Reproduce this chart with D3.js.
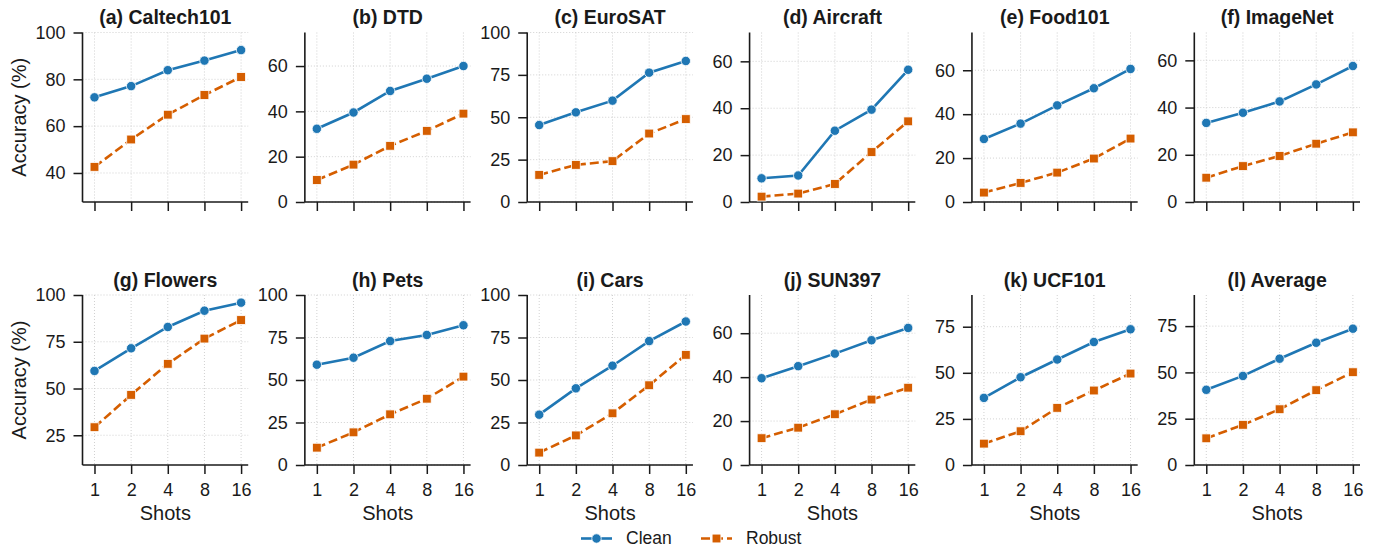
<!DOCTYPE html>
<html>
<head>
<meta charset="utf-8">
<script src="https://cdn.jsdelivr.net/npm/d3@7"></script>
<style>
  html, body { margin: 0; padding: 0; background: #fff; }
  svg { display: block; font-family: "Liberation Sans", Arial, Helvetica, sans-serif; }
</style>
</head>
<body>
<svg id="chart" width="1373" height="548"></svg>
<script>
// Few-shot accuracy (%) per dataset, clean vs. robust evaluation
const shots = ["1", "2", "4", "8", "16"];
const datasets = ["(a) Caltech101", "(b) DTD", "(c) EuroSAT", "(d) Aircraft", "(e) Food101", "(f) ImageNet",
                  "(g) Flowers", "(h) Pets", "(i) Cars", "(j) SUN397", "(k) UCF101", "(l) Average"];

const clean = [
  [72.3, 77.1, 83.9, 88.0, 92.5],
  [32.3, 39.5, 49.0, 54.4, 60.0],
  [45.4, 52.9, 59.8, 76.3, 83.2],
  [10.1, 11.3, 30.4, 39.4, 56.4],
  [28.7, 35.7, 44.0, 51.8, 60.6],
  [33.5, 37.8, 42.6, 49.8, 57.6],
  [59.4, 71.5, 82.9, 91.6, 95.9],
  [59.0, 63.1, 72.9, 76.5, 82.2],
  [29.6, 45.1, 58.4, 72.9, 84.4],
  [39.5, 45.0, 50.7, 56.8, 62.4],
  [36.4, 47.6, 57.2, 66.7, 73.6],
  [40.6, 48.1, 57.4, 66.0, 73.6]
];

const robust = [
  [42.6, 54.3, 64.9, 73.3, 81.0],
  [9.7, 16.5, 24.8, 31.4, 39.0],
  [16.0, 21.9, 24.1, 40.4, 48.9],
  [2.3, 3.6, 7.7, 21.3, 34.4],
  [4.3, 8.7, 13.4, 19.8, 28.9],
  [10.3, 15.2, 19.5, 24.7, 29.5],
  [29.3, 46.6, 63.2, 76.7, 86.6],
  [10.2, 19.2, 29.8, 39.0, 52.0],
  [7.3, 17.4, 30.4, 46.9, 64.8],
  [12.2, 17.0, 23.1, 29.8, 35.2],
  [11.6, 18.3, 31.0, 40.4, 49.6],
  [14.4, 21.7, 30.1, 40.4, 50.1]
];

const yTicks = [
  [40, 60, 80, 100], [0, 20, 40, 60], [0, 25, 50, 75, 100], [0, 20, 40, 60],
  [0, 20, 40, 60], [0, 20, 40, 60], [25, 50, 75, 100], [0, 25, 50, 75, 100],
  [0, 25, 50, 75, 100], [0, 20, 40, 60], [0, 25, 50, 75], [0, 25, 50, 75]
];

// y-axis extents of each panel
const yLimits = [
  [27.6, 100], [0, 74.8], [0, 100], [0, 72.3], [0, 77.2], [0, 71.8],
  [9.1, 100], [0, 100], [0, 100], [0, 77.4], [0, 92.2], [0, 91.8]
];

const seriesNames = ["Clean", "Robust"];

// ---- layout & style ----
const colX0 = 82.5, colStep = 222.36, plotW = 165.7;
const rowTop = [32.5, 295], rowBottom = [202, 465];
const ink = "#1a1a1a";
const colors = { Clean: "#1f77b4", Robust: "#d55e00" };

const svg = d3.select("#chart");

const x = d3.scaleLinear().domain([-0.327, 4.194]).range([0, plotW]);

datasets.forEach((name, i) => {
  const col = i % 6, row = Math.floor(i / 6);
  const h = rowBottom[row] - rowTop[row];
  const g = svg.append("g").attr("transform", `translate(${colX0 + col * colStep},${rowTop[row]})`);
  const y = d3.scaleLinear().domain(yLimits[i]).range([h, 0]);

  // dotted grid
  const grid = g.append("g").attr("stroke", "#cccccc").attr("stroke-width", 0.9).attr("stroke-dasharray", "1,2");
  grid.selectAll("line.h").data(yTicks[i]).join("line").attr("class", "h")
    .attr("x1", 0).attr("x2", plotW).attr("y1", d => y(d)).attr("y2", d => y(d));
  grid.selectAll("line.v").data(d3.range(shots.length)).join("line").attr("class", "v")
    .attr("x1", d => x(d)).attr("x2", d => x(d)).attr("y1", 0).attr("y2", h);

  // axes
  const xAxis = d3.axisBottom(x).tickValues(d3.range(shots.length))
    .tickFormat(row === 1 ? (d => shots[d]) : () => "")
    .tickSize(9).tickSizeOuter(0).tickPadding(9);
  const yAxis = d3.axisLeft(y).tickValues(yTicks[i]).tickSize(9).tickSizeOuter(0).tickPadding(8);

  const gx = g.append("g").attr("transform", `translate(0,${h})`).call(xAxis);
  const gy = g.append("g").call(yAxis);
  [gx, gy].forEach(a => {
    a.select(".domain").attr("stroke", ink).attr("stroke-width", 1.6);
    a.selectAll(".tick line").attr("stroke", ink).attr("stroke-width", 1.5);
    a.selectAll(".tick text").attr("fill", ink).style("font-size", "18px")
      .style("font-family", "'Liberation Sans', Arial, sans-serif");
  });
  // spines span the full panel
  gy.select(".domain").attr("d", `M0,0V${h}`);
  gx.select(".domain").attr("d", `M0,0H${plotW}`);

  // series
  const line = d3.line().x((d, k) => x(k)).y(d => y(d));
  g.append("path").datum(clean[i]).attr("d", line)
    .attr("fill", "none").attr("stroke", colors.Clean).attr("stroke-width", 2.6);
  g.append("path").datum(robust[i]).attr("d", line)
    .attr("fill", "none").attr("stroke", colors.Robust).attr("stroke-width", 2.6)
    .attr("stroke-dasharray", "9,4");

  g.selectAll("circle.c").data(clean[i]).join("circle").attr("class", "c")
    .attr("cx", (d, k) => x(k)).attr("cy", d => y(d)).attr("r", 4.7)
    .attr("fill", colors.Clean).attr("stroke", "#fff").attr("stroke-width", 0.8);
  const s = 8.8;
  g.selectAll("rect.r").data(robust[i]).join("rect").attr("class", "r")
    .attr("x", (d, k) => x(k) - s / 2).attr("y", d => y(d) - s / 2)
    .attr("width", s).attr("height", s)
    .attr("fill", colors.Robust).attr("stroke", "#fff").attr("stroke-width", 0.8);

  // title
  g.append("text").attr("x", plotW / 2).attr("y", -8.5).attr("text-anchor", "middle")
    .attr("fill", ink).style("font-size", "19.5px").style("font-weight", "bold").text(name);

  if (row === 1) {
    g.append("text").attr("x", plotW / 2).attr("y", h + 54.5).attr("text-anchor", "middle")
      .attr("fill", ink).style("font-size", "20px").text("Shots");
  }
  if (col === 0) {
    svg.append("text")
      .attr("transform", `translate(26,${(rowTop[row] + rowBottom[row]) / 2}) rotate(-90)`)
      .attr("text-anchor", "middle").attr("fill", ink).style("font-size", "20px").text("Accuracy (%)");
  }
});

// legend
const legendItems = [
  { name: seriesNames[0], x0: 581, color: colors.Clean, dash: null, marker: "circle" },
  { name: seriesNames[1], x0: 701, color: colors.Robust, dash: "9,4", marker: "square" }
];
const lg = svg.append("g").attr("transform", "translate(0,538.5)");
legendItems.forEach(it => {
  const e = lg.append("g");
  e.append("line").attr("x1", it.x0).attr("x2", it.x0 + 31).attr("y1", 0).attr("y2", 0)
    .attr("stroke", it.color).attr("stroke-width", 2.6).attr("stroke-dasharray", it.dash);
  if (it.marker === "circle") {
    e.append("circle").attr("cx", it.x0 + 15.5).attr("cy", 0).attr("r", 4.7)
      .attr("fill", it.color).attr("stroke", "#fff").attr("stroke-width", 0.8);
  } else {
    e.append("rect").attr("x", it.x0 + 15.5 - 4.4).attr("y", -4.4).attr("width", 8.8).attr("height", 8.8)
      .attr("fill", it.color).attr("stroke", "#fff").attr("stroke-width", 0.8);
  }
  e.append("text").attr("x", it.x0 + 45).attr("y", 5.6)
    .attr("fill", ink).style("font-size", "17.5px").text(it.name);
});
</script>
</body>
</html>
